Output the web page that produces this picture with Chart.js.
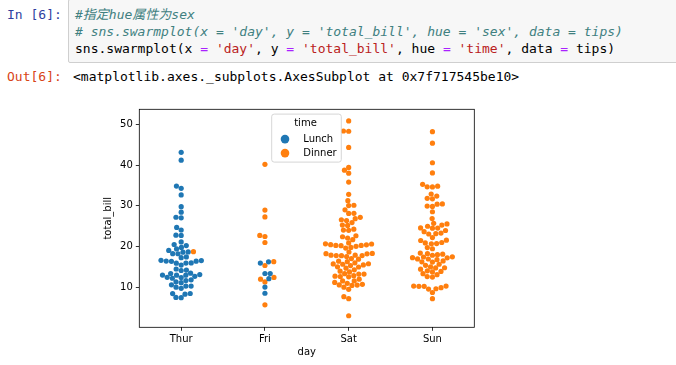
<!DOCTYPE html>
<html>
<head>
<meta charset="utf-8">
<script src="https://cdn.jsdelivr.net/npm/chart.js@4"></script>
<style>
  html, body { margin: 0; padding: 0; background: #fff; }
  body { width: 676px; height: 365px; position: relative; overflow: hidden; }
  .mono { font-family: "DejaVu Sans Mono", "Noto Sans CJK SC", monospace; font-size: 13px; line-height: 17px; white-space: pre; position: absolute; }
  .in-prompt { color: #303F9F; left: 7px; top: 6px; }
  .out-prompt { color: #D84315; left: 7px; top: 68px; }
  .out-text { color: #000; left: 73px; top: 68px; }
  .cell { position: absolute; left: 68px; top: -1px; width: 700px; height: 62px; background: #f7f7f7; border: 1px solid #cfcfcf; border-radius: 2px; }
  .code { left: 6px; top: 6px; color: #000; }
  .cm { color: #408080; font-style: italic; }
  .op { color: #AA22FF; }
  .st { color: #BA2121; }
  #chart { position: absolute; left: 80px; top: 100px; }
</style>
</head>
<body>
<div class="mono in-prompt">In [6]:</div>
<div class="cell">
<div class="mono code"><span class="cm">#指定hue属性为sex</span>
<span class="cm"># sns.swarmplot(x = 'day', y = 'total_bill', hue = 'sex', data = tips)</span>
sns.swarmplot(x <span class="op">=</span> <span class="st">'day'</span>, y <span class="op">=</span> <span class="st">'total_bill'</span>, hue <span class="op">=</span> <span class="st">'time'</span>, data <span class="op">=</span> tips)</div>
</div>
<div class="mono out-prompt">Out[6]:</div>
<div class="mono out-text">&lt;matplotlib.axes._subplots.AxesSubplot at 0x7f717545be10&gt;</div>
<canvas id="chart" width="420" height="265"></canvas>
<script>
// total_bill values per day, split by time
const thurLunch = [27.20, 22.76, 17.29, 19.44, 16.66, 10.07, 32.68, 15.98, 34.83, 13.03, 18.28, 24.71, 21.16,
  10.65, 12.43, 24.08, 11.69, 13.42, 14.26, 15.95, 12.48, 29.80, 8.52, 14.52, 11.38, 22.82, 19.08, 20.27,
  11.17, 12.26, 18.26, 8.51, 10.33, 14.15, 16.00, 13.16, 17.47, 34.30, 41.19, 27.05, 16.43, 8.35, 18.64,
  11.87, 9.78, 7.51, 19.81, 28.44, 15.48, 16.58, 7.56, 10.34, 43.11, 13.00, 13.51, 18.71, 12.74, 13.00,
  16.40, 20.53, 16.47];
const thurDinner = [18.78];
const friLunch = [12.16, 13.42, 8.58, 15.98, 13.42, 16.27, 10.09];
const friDinner = [28.97, 22.49, 5.75, 16.32, 22.75, 40.17, 27.28, 12.03, 21.01, 12.46, 11.35, 15.38];
const satDinner = [20.65, 17.92, 20.29, 15.77, 39.42, 19.82, 17.81, 13.37, 12.69, 21.70, 19.65, 9.55, 18.35,
  15.06, 20.69, 17.78, 24.06, 16.31, 16.93, 18.69, 31.27, 16.04, 38.01, 26.41, 11.24, 48.27, 20.29, 13.81,
  11.02, 18.29, 17.59, 20.08, 16.45, 3.07, 20.23, 15.01, 12.02, 17.07, 26.86, 25.28, 14.73, 10.51, 17.92,
  44.30, 22.42, 20.92, 15.36, 20.49, 25.21, 18.24, 14.31, 14.00, 7.25, 10.59, 10.63, 50.81, 15.81, 26.59,
  38.73, 24.27, 12.76, 30.06, 25.89, 48.33, 13.27, 28.17, 12.90, 28.15, 11.59, 7.74, 30.14, 20.45, 13.28,
  22.12, 24.01, 15.69, 11.61, 10.77, 15.53, 10.07, 12.60, 32.83, 35.83, 29.03, 27.18, 22.67, 17.82];
const sunDinner = [16.99, 10.34, 21.01, 23.68, 24.59, 25.29, 8.77, 26.88, 15.04, 14.78, 10.27, 35.26, 15.42,
  18.43, 14.83, 21.58, 10.33, 16.29, 16.97, 17.46, 13.94, 9.68, 30.40, 18.29, 22.23, 32.40, 28.55, 18.04,
  12.54, 10.29, 34.81, 9.94, 25.56, 19.49, 38.07, 23.95, 25.71, 17.31, 29.93, 14.07, 13.13, 17.26, 24.55,
  19.77, 29.85, 48.17, 25.00, 13.39, 16.49, 21.50, 12.66, 16.21, 13.81, 17.51, 24.52, 20.76, 31.71, 7.25,
  31.85, 16.82, 32.90, 17.89, 14.48, 9.60, 34.63, 34.65, 23.33, 45.35, 23.17, 40.55, 20.69, 20.90, 30.46,
  18.15, 23.10, 15.69];

const days = ["Thur", "Fri", "Sat", "Sun"];
const lunchByDay = [thurLunch, friLunch, [], []];
const dinnerByDay = [thurDinner, friDinner, satDinner, sunDinner];
const hueTitle = "time";
const hueLabels = ["Lunch", "Dinner"];
const hueColors = ["#1f77b4", "#ff7f0e"];
const yTicks = [10, 20, 30, 40, 50];

Chart.defaults.font.family = '"DejaVu Sans", sans-serif';
Chart.defaults.font.size = 10;
Chart.defaults.color = "#000";

const spines = {
  id: "spines",
  afterDatasetsDraw(chart) {
    const { ctx, chartArea: a } = chart;
    ctx.save();
    ctx.strokeStyle = "#000";
    ctx.lineWidth = 0.8;
    ctx.strokeRect(a.left, a.top, a.right - a.left, a.bottom - a.top);
    ctx.restore();
  }
};

const boxLegend = {
  id: "boxLegend",
  afterDraw(chart) {
    const { ctx, chartArea: a } = chart;
    const x = a.left + 132.4, y = a.top + 4.8, w = 69.6, h = 48, r = 2.5;
    ctx.save();
    ctx.beginPath();
    ctx.roundRect(x, y, w, h, r);
    ctx.fillStyle = "rgba(255,255,255,0.8)";
    ctx.fill();
    ctx.strokeStyle = "#cccccc";
    ctx.lineWidth = 0.8;
    ctx.stroke();
    ctx.font = '10px "DejaVu Sans"';
    ctx.fillStyle = "#000";
    ctx.textBaseline = "middle";
    ctx.textAlign = "center";
    ctx.fillText(hueTitle, x + w / 2 - 1, y + 9);
    ctx.textAlign = "left";
    chart.data.datasets.forEach((ds, i) => {
      const cy = y + 25 + 14 * i;
      ctx.beginPath();
      ctx.arc(x + 13.3, cy, 4.3, 0, Math.PI * 2);
      ctx.fillStyle = ds.backgroundColor;
      ctx.fill();
      ctx.fillStyle = "#000";
      ctx.fillText(ds.label, x + 31.6, cy);
    });
    ctx.restore();
  }
};

const chart = new Chart(document.getElementById("chart"), {
  type: "scatter",
  data: {
    datasets: hueLabels.map((label, h) => ({
      label: label,
      data: [],
      backgroundColor: hueColors[h],
      borderWidth: 0,
      pointRadius: 2.6,
      pointHoverRadius: 2.6
    }))
  },
  options: {
    responsive: false,
    animation: false,
    devicePixelRatio: 1,
    layout: { padding: { left: 0, right: 25.7, top: 9.3, bottom: 0 } },
    plugins: { legend: { display: false }, tooltip: { enabled: false } },
    scales: {
      x: {
        type: "linear",
        min: -0.5,
        max: 3.5,
        afterBuildTicks: (s) => { s.ticks = days.map((d, i) => ({ value: i })); },
        afterFit: (s) => { s.height = 37.7; },
        ticks: { callback: (v) => days[v], autoSkip: false, maxRotation: 0, padding: 3 },
        grid: { drawOnChartArea: false, drawTicks: true, tickLength: 3.5, color: "#000", lineWidth: 0.8 },
        border: { display: false },
        title: { display: true, text: "day", padding: { top: 0, bottom: 7 } }
      },
      y: {
        type: "linear",
        min: 0.24,
        max: 53.65,
        afterBuildTicks: (s) => { s.ticks = yTicks.map((v) => ({ value: v })); },
        afterFit: (s) => { s.width = 59.3; },
        ticks: { padding: 3 },
        grid: { drawOnChartArea: false, drawTicks: true, tickLength: 3.5, color: "#000", lineWidth: 0.8 },
        border: { display: false },
        title: { display: true, text: "total_bill", padding: { top: 22, bottom: 0 } }
      }
    }
  },
  plugins: [spines, boxLegend]
});

// beeswarm placement in pixel space, like seaborn's swarmplot
function placeSwarm(chart) {
  const xs = chart.scales.x, ys = chart.scales.y;
  const d = 5;
  const out = hueLabels.map(() => []);
  days.forEach((day, i) => {
    const mid = xs.getPixelForValue(i);
    const pts = [];
    [lunchByDay, dinnerByDay].forEach((arr, h) => {
      arr[i].forEach((v) => pts.push({ v: v, h: h, x: mid, y: -ys.getPixelForValue(v) }));
    });
    pts.sort((a, b) => a.y - b.y);
    const swarm = [pts[0]];
    for (let k = 1; k < pts.length; k++) {
      const p = pts[k];
      const nb = [];
      for (let j = swarm.length - 1; j >= 0; j--) {
        if (p.y - swarm[j].y < d) nb.unshift(swarm[j]);
        else break;
      }
      const cands = [p.x];
      let leftFirst = true;
      nb.forEach((q) => {
        const dy = p.y - q.y;
        const dx = Math.sqrt(Math.max(d * d - dy * dy, 0)) * 1.05;
        if (leftFirst) cands.push(q.x - dx, q.x + dx);
        else cands.push(q.x + dx, q.x - dx);
        leftFirst = !leftFirst;
      });
      const order = cands.map((c, idx) => ({ c: c, idx: idx }))
        .sort((a, b) => (Math.abs(a.c - mid) - Math.abs(b.c - mid)) || (a.idx - b.idx));
      for (const o of order) {
        if (nb.every((q) => (q.x - o.c) ** 2 + (q.y - p.y) ** 2 >= d * d)) { p.x = o.c; break; }
      }
      swarm.push(p);
    }
    swarm.forEach((p) => out[p.h].push({ x: xs.getValueForPixel(p.x), y: p.v }));
  });
  chart.data.datasets.forEach((ds, h) => { ds.data = out[h]; });
  chart.update("none");
}

placeSwarm(chart);
</script>
</body>
</html>
